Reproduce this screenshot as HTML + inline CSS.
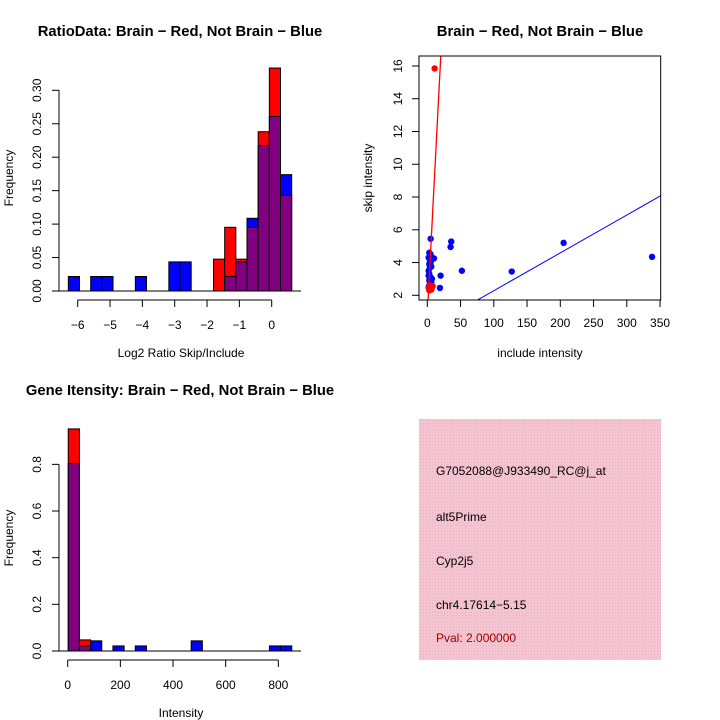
<!DOCTYPE html>
<html><head><meta charset="utf-8"><style>
html,body{margin:0;padding:0;background:#fff;}
svg{display:block;font-family:"Liberation Sans",sans-serif;}
</style></head><body>
<svg id="s" width="720" height="720" viewBox="0 0 720 720">
<defs>
<pattern id="hatch" width="3" height="3" patternUnits="userSpaceOnUse">
<rect width="3" height="3" fill="#f4c4d0"/><rect width="1" height="1" fill="#e8b0c0"/>
</pattern>
</defs>
</svg>
<script>
// ---- data ----
const ratioBinStart = -6.29, ratioBinWidth = 0.3454;
const ratioRed  = [0,0,0,0,0,0,0,0,0,0,0,0,0,0.0476,0.0952,0.0476,0.0952,0.2381,0.3333,0.1429];
const ratioBlue = [0.0217,0,0.0217,0.0217,0,0,0.0217,0,0,0.0435,0.0435,0,0,0,0.0217,0.0435,0.1087,0.2174,0.2609,0.1739];
const ratioXTicks = [-6,-5,-4,-3,-2,-1,0];
const ratioYTicks = ["0.00","0.05","0.10","0.15","0.20","0.25","0.30"];

const intBinStart = 2, intBinWidth = 42.45;
const intRed  = [0.952,0.0476,0,0,0,0,0,0,0,0,0,0,0,0,0,0,0,0,0,0];
const intBlue = [0.804,0.0217,0.0435,0,0.0217,0,0.0217,0,0,0,0,0.0435,0,0,0,0,0,0,0.0217,0.0217];
const intXTicks = [0,200,400,600,800];
const intYTicks = ["0.0","0.2","0.4","0.6","0.8"];

const blueX = [5,35,36,52,127,205,338,19,20,10,3,4,2,5,3,4,6,2,3,5,4,2,3,6,4,3,2,5,7,4];
const blueY = [5.45,4.95,5.28,3.5,3.45,5.2,4.35,2.45,3.2,4.25,4.6,4.4,4.3,4.0,3.9,3.7,3.75,3.5,3.3,3.1,3.0,3.2,2.9,2.8,2.7,2.6,2.5,4.5,3.0,4.1];
const redX = [11,3,5,8,4,2,6];
const redY = [15.85,2.3,2.4,2.55,2.6,2.45,2.35];
const scatXTicks = [0,50,100,150,200,250,300,350];
const scatYTicks = [2,4,6,8,10,12,14,16];
const blueLine = {a:-0.03, b:0.0231};
const redLine = {a:0.8, b:0.78};

// ---- helpers ----
const S = document.getElementById('s'), NS='http://www.w3.org/2000/svg';
function el(tag, attrs, parent){const e=document.createElementNS(NS,tag);for(const k in attrs)e.setAttribute(k,attrs[k]);(parent||S).appendChild(e);return e;}
function txt(x,y,t,size,opts,parent){const e=el('text',Object.assign({x:x,y:y,'font-size':size,'text-anchor':'middle',fill:'#000'},opts||{}),parent);e.textContent=t;return e;}
const TS=12, TT=14.8;

// ---- panel 1: ratio histogram ----
(function(){
  const g=el('g',{});
  
  
  const xs=v=>271.7+v*32.33, ys=v=>291-v*669;
  for(let i=0;i<ratioRed.length;i++){
    const r=ratioRed[i], b=ratioBlue[i]; if(!r&&!b)continue;
    const x0=xs(ratioBinStart+i*ratioBinWidth), w=xs(ratioBinStart+(i+1)*ratioBinWidth)-x0;
    const mx=Math.max(r,b), mn=Math.min(r,b);
    const top=el('rect',{x:x0,y:ys(mx),width:w,height:ys(0)-ys(mx),fill:r>=b?'#ff0000':'#0000ff',stroke:'#000','stroke-width':1},g);
    
    
    if(mn>0){const p=el('rect',{x:x0,y:ys(mn),width:w,height:ys(0)-ys(mn),fill:'#800080',stroke:'#000','stroke-width':1},g);
      
      }
  }
  el('line',{x1:52,x2:301,y1:291,y2:291,stroke:'#000'},g);
  el('line',{x1:59,x2:59,y1:ys(0),y2:ys(0.30),stroke:'#000'},g);
  ratioYTicks.forEach(t=>{const y=ys(+t);el('line',{x1:52,x2:59,y1:y,y2:y,stroke:'#000'},g);
    txt(0,0,t,TS,{transform:`translate(41,${y}) rotate(-90)`},g);});
  el('line',{x1:xs(-6),x2:xs(0),y1:300,y2:300,stroke:'#000'},g);
  ratioXTicks.forEach(t=>{const x=xs(t);el('line',{x1:x,x2:x,y1:300,y2:307,stroke:'#000'},g);txt(x,329,t===0?'0':'\u2212'+Math.abs(t),TS,{},g);});
  const a=txt(181,357,'Log2 Ratio Skip/Include',TS,{},g);
  const b=txt(0,0,'Frequency',TS,{transform:'translate(13,178) rotate(-90)'},g);
  const c=txt(180,36,'RatioData: Brain \u2212 Red, Not Brain \u2212 Blue',TT,{'font-weight':'bold'},g);
})();

// ---- panel 2: scatter ----
(function(){
  const g=el('g',{});
  
  
  const xs=v=>427.3+v*0.665, ys=v=>295.3-(v-2)*16.38;
  const cp=el('clipPath',{id:'cp'},g);el('rect',{x:419,y:56,width:242,height:244},cp);
  blueX.forEach((x,i)=>{const c=el('circle',{cx:xs(x),cy:ys(blueY[i]),r:3.2,fill:'#0000ff'},g);
    
    });
  redX.forEach((x,i)=>{const c=el('circle',{cx:xs(x),cy:ys(redY[i]),r:3.2,fill:'#ff0000'},g);
    
    });
  const bl=el('line',{x1:xs(0),y1:ys(blueLine.a),x2:xs(360),y2:ys(blueLine.a+blueLine.b*360),stroke:'#0000ff','stroke-width':1,'clip-path':'url(#cp)'},g);
  
  const rl=el('line',{x1:xs(0),y1:ys(redLine.a),x2:xs(25),y2:ys(redLine.a+redLine.b*25),stroke:'#ff0000','stroke-width':1.3,'clip-path':'url(#cp)'},g);
  
  el('rect',{x:419,y:56,width:241.7,height:244,fill:'none',stroke:'#000'},g);
  scatYTicks.forEach(t=>{const y=ys(t);el('line',{x1:412,x2:419,y1:y,y2:y,stroke:'#000'},g);txt(0,0,t,TS,{transform:`translate(402,${y}) rotate(-90)`},g);});
  scatXTicks.forEach(t=>{const x=xs(t);el('line',{x1:x,x2:x,y1:300,y2:307,stroke:'#000'},g);txt(x,327,t,TS,{},g);});
  const a=txt(540,357,'include intensity',TS,{},g);
  const b=txt(0,0,'skip intensity',TS,{transform:'translate(372,178) rotate(-90)'},g);
  const c=txt(540,36,'Brain \u2212 Red, Not Brain \u2212 Blue',TT,{'font-weight':'bold'},g);
})();

// ---- panel 3: intensity histogram ----
(function(){
  const g=el('g',{});
  
  
  const xs=v=>67.7+v*0.2633, ys=v=>651-v*233.3;
  for(let i=0;i<intRed.length;i++){
    const r=intRed[i], b=intBlue[i]; if(!r&&!b)continue;
    const x0=xs(intBinStart+i*intBinWidth), w=xs(intBinStart+(i+1)*intBinWidth)-x0;
    const mx=Math.max(r,b), mn=Math.min(r,b);
    const top=el('rect',{x:x0,y:ys(mx),width:w,height:ys(0)-ys(mx),fill:r>=b?'#ff0000':'#0000ff',stroke:'#000','stroke-width':1},g);
    
    
    if(mn>0){const p=el('rect',{x:x0,y:ys(mn),width:w,height:ys(0)-ys(mn),fill:'#800080',stroke:'#000','stroke-width':1},g);
      
      }
  }
  el('line',{x1:52,x2:301,y1:651,y2:651,stroke:'#000'},g);
  el('line',{x1:59,x2:59,y1:ys(0),y2:ys(0.8),stroke:'#000'},g);
  intYTicks.forEach(t=>{const y=ys(+t);el('line',{x1:52,x2:59,y1:y,y2:y,stroke:'#000'},g);txt(0,0,t,TS,{transform:`translate(41,${y}) rotate(-90)`},g);});
  el('line',{x1:xs(0),x2:xs(800),y1:660,y2:660,stroke:'#000'},g);
  intXTicks.forEach(t=>{const x=xs(t);el('line',{x1:x,x2:x,y1:660,y2:667,stroke:'#000'},g);txt(x,689,t,TS,{},g);});
  const a=txt(181,717,'Intensity',TS,{},g);
  const b=txt(0,0,'Frequency',TS,{transform:'translate(13,538) rotate(-90)'},g);
  const c=txt(180,395,'Gene Itensity: Brain \u2212 Red, Not Brain \u2212 Blue',TT,{'font-weight':'bold'},g);
})();

// ---- panel 4: info box ----
(function(){
  const g=el('g',{});
  
  
  el('rect',{x:419,y:419,width:242,height:241,fill:'url(#hatch)'},g);
  const lines=[['G7052088@J933490_RC@j_at',475,'#000','probe-id'],['alt5Prime',521,'#000','event-type'],['Cyp2j5',565,'#000','gene-name'],['chr4.17614\u22125.15',609,'#000','location'],['Pval: 2.000000',642,'#a00000','p-value']];
  lines.forEach(l=>{const t=txt(436,l[1],l[0],TS,{'text-anchor':'start',fill:l[2]},g);
    
    });
})();
</script>
</body></html>
